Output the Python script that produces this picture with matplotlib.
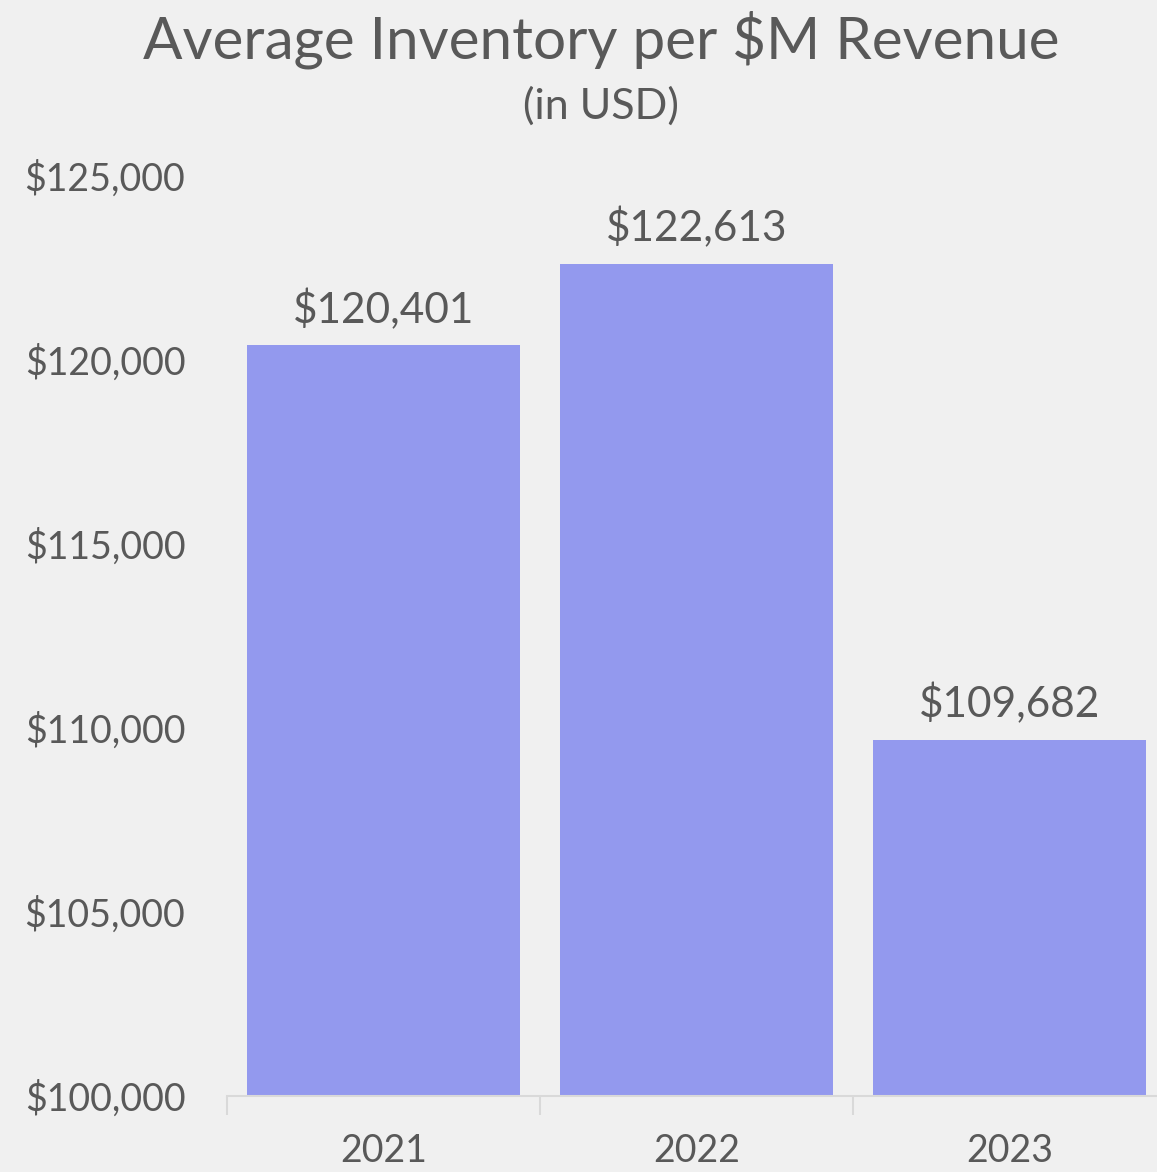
import matplotlib
matplotlib.use("Agg")
import matplotlib.pyplot as plt
from matplotlib.ticker import FuncFormatter

years = ["2021", "2022", "2023"]
inventory = [120401, 122613, 109682]

bg = "#f0f0f0"
bar_color = "#9399ee"
text_color = "#595959"

plt.rcParams["font.family"] = ["Lato", "DejaVu Sans"]

fig = plt.figure(figsize=(11.57, 11.72), dpi=100, facecolor=bg)
ax = fig.add_axes([227 / 1157, 76 / 1172, 939 / 1157, 920 / 1172])
ax.set_facecolor(bg)

x = range(len(years))
bars = ax.bar(x, inventory, width=0.875, color=bar_color, zorder=2)

ax.set_ylim(100000, 125000)
ax.set_xlim(-0.5, 2.5)
ax.set_yticks(range(100000, 125001, 5000))
ax.yaxis.set_major_formatter(FuncFormatter(lambda v, p: "${:,.0f}".format(v)))
ax.set_xticks(list(x))
ax.set_xticklabels(years)

# category separators on the x axis
ax.set_xticks([-0.5, 0.5, 1.5, 2.5], minor=True)
ax.tick_params(axis="x", which="minor", length=14, color="#d9d9d9", width=1.5)
ax.tick_params(axis="x", which="major", length=0, pad=27, labelsize=27, labelcolor=text_color)
ax.tick_params(axis="y", length=0, pad=30, labelsize=27, labelcolor=text_color)

for s in ["top", "right", "left"]:
    ax.spines[s].set_visible(False)
ax.spines["bottom"].set_color("#d9d9d9")
ax.spines["bottom"].set_linewidth(1.5)

for i, v in enumerate(inventory):
    ax.annotate("${:,.0f}".format(v), (i, v), xytext=(0, 11), textcoords="offset points",
                ha="center", va="bottom", fontsize=30.5, color=text_color)

fig.text(601 / 1157, 1 - 40 / 1172, "Average Inventory per $M Revenue", ha="center", va="center",
         fontsize=42, color=text_color)
fig.text(601 / 1157, 1 - 106 / 1172, "(in USD)", ha="center", va="center",
         fontsize=31, color=text_color)

fig.savefig("out.png", dpi=100, facecolor=bg)
